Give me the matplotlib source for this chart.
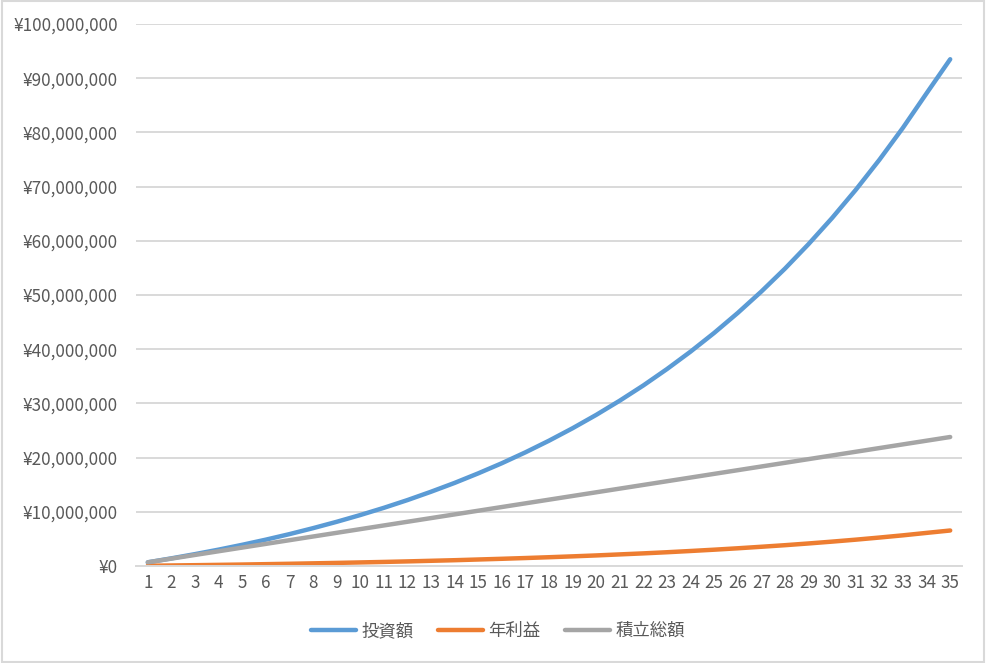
import numpy as np
from matplotlib import pyplot as plt
from matplotlib.ticker import FuncFormatter, MultipleLocator
from matplotlib.patches import Rectangle

plt.rcParams['font.family'] = ['Noto Sans CJK JP', 'DejaVu Sans']

years = list(range(1, 36))
# values, in units of 10,000 yen
investment = [68, 141, 219, 302, 391, 486, 588, 698, 815, 940,
              1073, 1216, 1370, 1533, 1709, 1896, 2097, 2312, 2542, 2788,
              3051, 3332, 3634, 3956, 4301, 4670, 5065, 5487, 5940, 6423,
              6941, 7495, 8087, 8722, 9350]
profit = [5, 10, 15, 21, 27, 34, 41, 49, 57, 66,
          75, 85, 96, 107, 120, 133, 147, 162, 178, 195,
          214, 233, 254, 277, 301, 327, 355, 384, 416, 450,
          486, 525, 566, 611, 655]
deposit = [68, 136, 204, 272, 340, 408, 476, 544, 612, 680,
           748, 816, 884, 952, 1020, 1088, 1156, 1224, 1292, 1360,
           1428, 1496, 1564, 1632, 1700, 1768, 1836, 1904, 1972, 2040,
           2108, 2176, 2244, 2312, 2380]
labels = ['投資額', '年利益', '積立総額']
colors = ['#5B9BD5', '#ED7D31', '#A5A5A5']

fig = plt.figure(figsize=(9.86, 6.63), dpi=100)
ax = fig.add_axes([136/986, 1-566/663, (962-136)/986, (566-24)/663])

for vals, lab, col in zip([investment, profit, deposit], labels, colors):
    ax.plot(years, np.array(vals) * 10000, color=col, lw=3.2,
            solid_capstyle='round', label=lab)

ax.set_xlim(0.5, 35.5)
ax.set_ylim(0, 100000000)
ax.yaxis.set_major_locator(MultipleLocator(10000000))
ax.yaxis.set_major_formatter(FuncFormatter(lambda v, p: '¥{:,.0f}'.format(v)))
ax.set_xticks(years)
ax.grid(axis='y', color='#D9D9D9', lw=1.4)
ax.set_axisbelow(True)
for s in ['top', 'right', 'left']:
    ax.spines[s].set_visible(False)
ax.spines['bottom'].set_color('#D9D9D9')
ax.spines['bottom'].set_linewidth(1.4)
ax.tick_params(axis='both', length=0, colors='#595959', labelsize=12.3)
ax.tick_params(axis='y', pad=13)
ax.tick_params(axis='x', pad=6)

fig.legend(loc='center', bbox_to_anchor=(0.505, 1-631/663), ncol=3,
           frameon=False, fontsize=12.5, labelcolor='#595959',
           handlelength=2.6, columnspacing=1.4, handletextpad=0.3)

fig.patches.append(Rectangle((0.002, 0.002), 0.996, 0.996, transform=fig.transFigure,
                             fill=False, edgecolor='#D9D9D9', lw=1.5))

plt.savefig('out.png', dpi=100)
